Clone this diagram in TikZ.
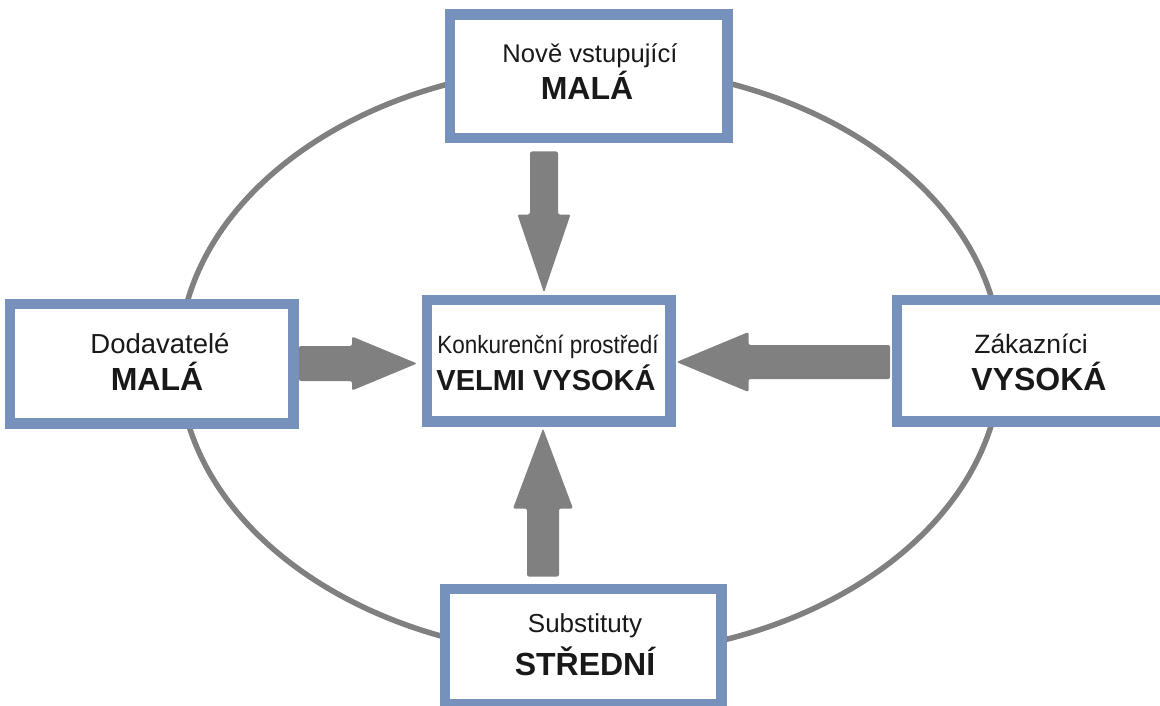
\documentclass[tikz,border=0pt]{standalone}
\usepackage{fontspec}
\setmainfont{Liberation Sans}
\newfontfamily\condfont[FakeStretch=0.9]{Liberation Sans}
\usetikzlibrary{calc}
\definecolor{boxblue}{RGB}{117,145,188}
\definecolor{arrowgray}{RGB}{128,128,128}
\definecolor{txt}{RGB}{25,25,25}
% #1 start, #2 tip, #3 half shaft width, #4 half head width, #5 head length
\newcommand\fatarrow[5]{%
  \coordinate (fab) at ($(#2)!#5!(#1)$);
  \fill[arrowgray, rounded corners=2pt]
    ($(#1)!#3!90:(#2)$) -- ($(fab)!#3!-90:(#1)$) -- ($(fab)!#4!-90:(#1)$)
    -- (#2) -- ($(fab)!#4!90:(#1)$) -- ($(fab)!#3!90:(#1)$)
    -- ($(#1)!#3!-90:(#2)$) -- cycle;
}
\begin{document}
\begin{tikzpicture}[x=1pt,y=-1pt,
  box/.style={draw=boxblue, line width=7pt, fill=white, inner sep=0pt, rectangle},
  lbl/.style={anchor=base, inner sep=0pt, text=txt},
  nrm/.style={lbl, font=\fontsize{#1}{#1}\selectfont},
  bld/.style={lbl, font=\fontsize{#1}{#1}\selectfont\bfseries},
  ring/.style={draw=arrowgray, line width=5.5pt}]
\useasboundingbox (0,0) rectangle (1160,706);
\fill[white] (0,0) rectangle (1160,706);

% outer ellipse
\draw[ring] (590,361) ellipse [x radius=411pt, y radius=295pt];

% boxes
\node[box, minimum width=274pt, minimum height=120pt] (top) at (588.5,76.5) {};
\node[box, minimum width=280pt, minimum height=116pt] (left) at (151.5,363.5) {};
\node[box, minimum width=240pt, minimum height=118pt] (center) at (548.5,360.5) {};
\node[box, minimum width=265pt, minimum height=118pt] (right) at (1031,360.5) {};
\node[box, minimum width=273pt, minimum height=112pt] (bottom) at (583,646.5) {};

% arrows (connectors)
\coordinate (aT1) at ($(top.south -| center)+(-4.5,11.5)$);
\coordinate (aT2) at ($(center.north)+(-4.5,-5.5)$);
\fatarrow{aT1}{aT2}{14pt}{26.5pt}{78pt}

\coordinate (aL1) at ($(left.east)+(4,0)$);
\coordinate (aL2) at ($(center.west |- aL1)+(-8,0)$);
\fatarrow{aL1}{aL2}{17.5pt}{27pt}{65pt}

\coordinate (aR1) at ($(right.west)+(-5,1.5)$);
\coordinate (aR2) at ($(center.east |- aR1)+(4.5,0)$);
\fatarrow{aR1}{aR2}{17pt}{30pt}{72pt}

\coordinate (aB1) at ($(bottom.north -| center)+(-5.5,-10.5)$);
\coordinate (aB2) at ($(center.south)+(-5.5,5.5)$);
\fatarrow{aB1}{aB2}{16pt}{30pt}{80pt}

% redraw boxes on top of arrow ends
\foreach \b in {top,left,center,right,bottom}{
  \draw[boxblue, line width=7pt] (\b.north west) rectangle (\b.south east);
}

% labels
\node[nrm=25.6] (topA) at (590,63) {Nově vstupující};
\node[bld=32] (topB) at (587,100) {MALÁ};
\node[nrm=27.5] (leftA) at (160,353) {Dodavatelé};
\node[bld=32] (leftB) at (157,390) {MALÁ};
\node[lbl, font=\fontsize{25}{25}\selectfont\condfont] (centerA) at (548,353) {Konkurenční prostředí};
\node[bld=29] (centerB) at (546,390) {VELMI VYSOKÁ};
\node[nrm=26.5] (rightA) at (1031,353) {Zákazníci};
\node[bld=32] (rightB) at (1039,390) {VYSOKÁ};
\node[nrm=26] (bottomA) at (585,632) {Substituty};
\node[bld=32] (bottomB) at (585,675) {STŘEDNÍ};
\end{tikzpicture}
\end{document}
